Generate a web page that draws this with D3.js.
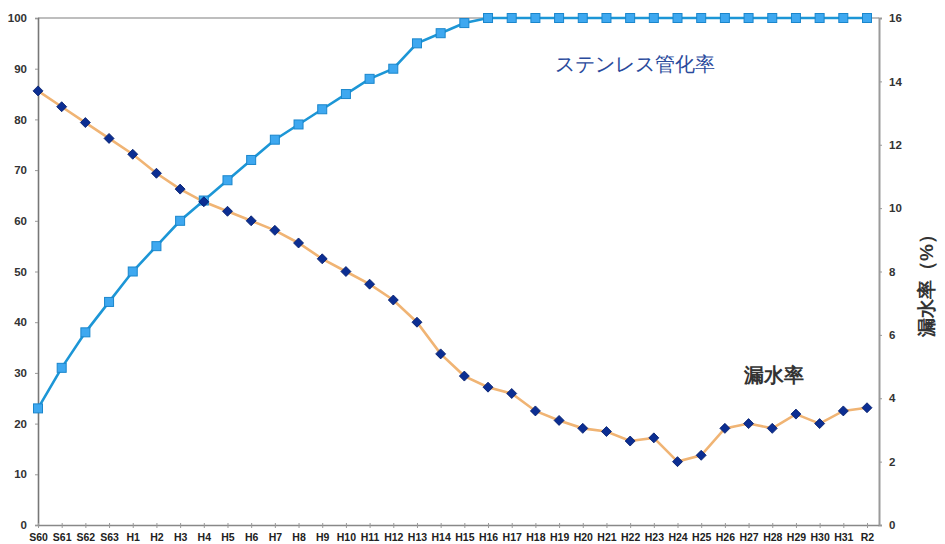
<!DOCTYPE html>
<html>
<head>
<meta charset="utf-8">
<script src="https://cdn.jsdelivr.net/npm/d3@7"></script>
<style>
  html, body { margin: 0; padding: 0; background: #fff; }
  svg { display: block; }
  text { font-family: "Liberation Sans", Arial, sans-serif; }
</style>
</head>
<body>
<svg id="chart" width="945" height="544"></svg>
<script>
// Fiscal years (Showa 60 ... Heisei 31, Reiwa 2)
const years = ["S60","S61","S62","S63",
  "H1","H2","H3","H4","H5","H6","H7","H8","H9","H10",
  "H11","H12","H13","H14","H15","H16","H17","H18","H19","H20",
  "H21","H22","H23","H24","H25","H26","H27","H28","H29","H30","H31","R2"];

// Stainless pipe conversion rate (%), left axis
const stainlessRate = [23, 31, 38, 44, 50, 55, 60, 64, 68, 72, 76, 79, 82, 85,
  88, 90, 95, 97, 99, 100, 100, 100, 100, 100,
  100, 100, 100, 100, 100, 100, 100, 100, 100, 100, 100, 100];

// Leakage rate (%), right axis
const leakRate = [13.7, 13.2, 12.7, 12.2, 11.7, 11.1, 10.6, 10.2, 9.9, 9.6, 9.3, 8.9, 8.4, 8.0,
  7.6, 7.1, 6.4, 5.4, 4.7, 4.35, 4.15, 3.6, 3.3, 3.05,
  2.95, 2.65, 2.75, 2.0, 2.2, 3.05, 3.2, 3.05, 3.5, 3.2, 3.6, 3.7];

const leftTicks = [0, 10, 20, 30, 40, 50, 60, 70, 80, 90, 100];
const rightTicks = [0, 2, 4, 6, 8, 10, 12, 14, 16];

const svg = d3.select("#chart");
const plotL = 38, plotR = 879, plotT = 18, plotB = 525;

const x = d3.scalePoint().domain(years).range([plotL, 867]);
const yL = d3.scaleLinear().domain([0, 100]).range([plotB, plotT]);
const yR = d3.scaleLinear().domain([0, 16]).range([plotB, plotT]);

// frame: top border
svg.append("line").attr("x1", plotL).attr("x2", plotR).attr("y1", plotT).attr("y2", plotT)
  .attr("stroke", "#a8a8a8").attr("stroke-width", 1.5);

// left axis
const axL = svg.append("g").attr("transform", `translate(${plotL},0)`)
  .call(d3.axisLeft(yL).tickValues(leftTicks).tickSize(3).tickPadding(8));
axL.select(".domain").attr("stroke", "#777").attr("stroke-width", 1.6);
axL.selectAll(".tick line").attr("stroke", "#999");
axL.selectAll(".tick text").attr("font-size", 11.5).attr("font-weight", "bold").attr("fill", "#333");

// right axis
const axR = svg.append("g").attr("transform", `translate(${plotR},0)`)
  .call(d3.axisRight(yR).tickValues(rightTicks).tickSize(3).tickPadding(7));
axR.select(".domain").attr("stroke", "#9a9a9a").attr("stroke-width", 2);
axR.selectAll(".tick line").attr("stroke", "#999");
axR.selectAll(".tick text").attr("font-size", 11.5).attr("font-weight", "bold").attr("fill", "#333");

// bottom axis
const axB = svg.append("g").attr("transform", `translate(0,${plotB})`)
  .call(d3.axisBottom(x).tickSizeInner(3).tickSizeOuter(0).tickPadding(6));
axB.select(".domain").attr("d", `M${plotL},0.5H${plotR}`).attr("stroke", "#888").attr("stroke-width", 1.5);
axB.selectAll(".tick line").attr("stroke", "#999").attr("y1", -2);
axB.selectAll(".tick text").attr("font-size", 10.5).attr("font-weight", "bold").attr("fill", "#222");

// leakage line
svg.append("path").datum(leakRate)
  .attr("fill", "none").attr("stroke", "#f0b474").attr("stroke-width", 2.6)
  .attr("d", d3.line().x((d, i) => x(years[i])).y(d => yR(d)));

// stainless line
svg.append("path").datum(stainlessRate)
  .attr("fill", "none").attr("stroke", "#1c96d6").attr("stroke-width", 2.6)
  .attr("d", d3.line().x((d, i) => x(years[i])).y(d => yL(d)));

// stainless markers (squares)
svg.append("g").selectAll("rect").data(stainlessRate).join("rect")
  .attr("x", (d, i) => x(years[i]) - 4.5).attr("y", d => yL(d) - 4.5)
  .attr("width", 9).attr("height", 9)
  .attr("fill", "#3ea8f0").attr("stroke", "#1a86cc").attr("stroke-width", 1);

// leakage markers (diamonds)
svg.append("g").selectAll("path").data(leakRate).join("path")
  .attr("transform", (d, i) => `translate(${x(years[i])},${yR(d)})`)
  .attr("d", "M0,-5L5,0L0,5L-5,0Z")
  .attr("fill", "#0c2e92").attr("stroke", "#001a6a").attr("stroke-width", 0.8);

// series labels
svg.append("text").attr("x", 555).attr("y", 71)
  .attr("font-family", "'Noto Sans CJK JP', sans-serif")
  .attr("font-size", 20).attr("fill", "#2a4a9c").attr("font-weight", 500)
  .text("ステンレス管化率");

svg.append("text").attr("x", 744).attr("y", 382)
  .attr("font-family", "'Noto Sans CJK JP', sans-serif")
  .attr("font-size", 20).attr("fill", "#333").attr("font-weight", 700)
  .text("漏水率");

// right axis title
svg.append("text")
  .attr("transform", "translate(933,281) rotate(-90)")
  .attr("text-anchor", "middle")
  .attr("font-family", "'Noto Sans CJK JP', sans-serif")
  .attr("font-size", 19).attr("fill", "#333").attr("font-weight", 700)
  .text("漏水率（%）");
</script>
</body>
</html>
